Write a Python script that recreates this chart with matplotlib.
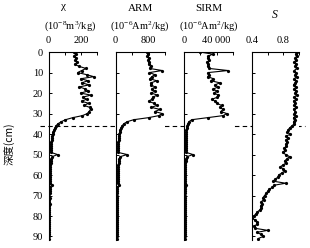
import matplotlib
matplotlib.use("Agg")
import matplotlib.pyplot as plt
import matplotlib.transforms as mtransforms

depth = [0, 1, 2, 3, 4, 5, 6, 7, 8, 9,
         10, 11, 12, 13, 14, 15, 16, 17, 18, 19,
         20, 21, 22, 23, 24, 25, 26, 27, 28, 29,
         30, 31, 32, 33, 34, 35, 36, 37, 38, 39,
         40, 41, 42, 43, 44, 45, 46, 47, 48, 49,
         50, 51, 52, 53, 54, 55, 56, 57, 58, 59,
         60, 61, 62, 63, 64, 65, 66, 67, 68, 69,
         70, 71, 72, 73, 74, 75, 76, 77, 78, 79,
         80, 81, 82, 83, 84, 85, 86, 87, 88, 89,
         90, 91]

chi = [160, 168, 158, 172, 165, 178, 162, 190, 232, 205,
       180, 235, 280, 200, 245, 205, 252, 190, 228, 245,
       198, 262, 212, 235, 205, 248, 220, 255, 260, 250,
       240, 210, 150, 105, 78, 58, 46, 40, 33, 29,
       26, 23, 21, 19, 17, 15, 14, 13, 13, 16,
       56, 24, 17, 14, 13, 12, 11, 10, 10, 9,
       9, 8, 8, 8, 8, 20, 7, 7, 8, 7,
       6, 7, 6, 6, 7, 6, 6, 5, 6, 5,
       5, 6, 5, 5, 6, 5, 5, 6, 5, 5,
       5, 5]

arm = [760, 780, 770, 800, 790, 820, 800, 850, 830, 1130,
       820, 950, 880, 830, 1000, 860, 850, 960, 880, 950,
       870, 1010, 900, 880, 800, 930, 1000, 870, 1080, 950,
       1130, 1050, 800, 440, 280, 200, 160, 130, 110, 100,
       92, 85, 80, 75, 70, 65, 62, 60, 58, 70,
       280, 120, 90, 80, 75, 70, 65, 62, 60, 58,
       55, 55, 52, 50, 50, 90, 48, 47, 46, 45,
       44, 43, 42, 42, 41, 40, 40, 39, 39, 38,
       38, 37, 37, 36, 36, 35, 35, 35, 34, 34,
       34, 33]

sirm = [20000, 35000, 30000, 29000, 31000, 28000, 30000, 29000, 31000, 54000,
        29500, 31000, 29000, 36000, 33000, 44000, 38000, 42000, 36000, 40000,
        37000, 42000, 41000, 34500, 38000, 40000, 46000, 44000, 48000, 45000,
        52500, 48000, 29000, 9500, 6000, 4500, 3800, 3300, 3000, 2800,
        2600, 2400, 2300, 2200, 2100, 2000, 1900, 1900, 2000, 3000,
        11000, 4000, 2500, 2000, 1800, 1700, 1600, 1500, 1500, 1400,
        1400, 1300, 1300, 1300, 1200, 2200, 1200, 1200, 1100, 1100,
        1100, 1000, 1000, 1000, 1000, 950, 950, 900, 900, 900,
        850, 850, 850, 800, 800, 800, 800, 750, 750, 750,
        750, 700]

s_ratio = [0.97, 0.96, 0.97, 0.95, 0.96, 0.94, 0.96, 0.95, 0.97, 0.94,
           0.96, 0.95, 0.97, 0.94, 0.96, 0.95, 0.93, 0.96, 0.94, 0.96,
           0.95, 0.97, 0.94, 0.96, 0.93, 0.95, 0.94, 0.96, 0.93, 0.95,
           0.94, 0.96, 0.93, 0.95, 0.93, 0.94, 0.91, 0.88, 0.86, 0.85,
           0.89, 0.84, 0.86, 0.83, 0.85, 0.83, 0.84, 0.81, 0.82, 0.79,
           0.83, 0.88, 0.85, 0.82, 0.84, 0.80, 0.76, 0.80, 0.82, 0.78,
           0.74, 0.73, 0.70, 0.67, 0.83, 0.68, 0.66, 0.62, 0.60, 0.58,
           0.56, 0.54, 0.55, 0.52, 0.53, 0.51, 0.52, 0.50, 0.47, 0.45,
           0.42, 0.40, 0.44, 0.46, 0.47, 0.42, 0.44, 0.60, 0.46, 0.52,
           0.54, 0.48]

depth_ticks = [0, 10, 20, 30, 40, 50, 60, 70, 80, 90]
boundary_depth = 36

titles = ["χ", "ARM", "SIRM", "S"]
units = ["(10$^{-8}$m$^{3}$/kg)", "(10$^{-6}$Am$^{2}$/kg)", "(10$^{-6}$Am$^{2}$/kg)", ""]
xlims = [(0, 300), (0, 1200), (0, 60000), (0.4, 1.0)]
xticks = [[0, 100, 200, 300], [0, 400, 800, 1200], [0, 20000, 40000, 60000], [0.4, 0.6, 0.8, 1.0]]
xticklabels = [["0", "", "200", ""], ["0", "", "800", ""], ["0", "", "40 000", ""], ["0.4", "", "0.8", ""]]
series = [chi, arm, sirm, s_ratio]

plt.rcParams['font.family'] = ['Liberation Serif', 'Noto Sans CJK SC']
plt.rcParams['mathtext.fontset'] = 'custom'
plt.rcParams['mathtext.rm'] = 'Liberation Serif'
plt.rcParams['mathtext.it'] = 'Liberation Serif:italic'

fig = plt.figure(figsize=(3.1, 2.48), dpi=100)

lefts = [0.1565, 0.3726, 0.5935, 0.8129]
widths = [0.1565, 0.160, 0.158, 0.1516]
bottom = 0.034
height = 0.756
title_x = [0.225, 0.452, 0.672, 0.887]

axes = []
for i in range(4):
    ax = fig.add_axes([lefts[i], bottom, widths[i], height])
    ax.plot(series[i], depth, color='black', lw=0.8, marker='o', ms=1.3)
    ax.set_xlim(*xlims[i])
    ax.set_ylim(91.5, 0)
    ax.spines['right'].set_visible(False)
    ax.spines['bottom'].set_visible(False)
    for sp in ('left', 'top'):
        ax.spines[sp].set_linewidth(0.8)
    ax.xaxis.tick_top()
    ax.set_xticks(xticks[i])
    ax.set_xticklabels(xticklabels[i])
    ax.set_yticks(depth_ticks)
    ax.tick_params(direction='in', length=2.5, width=0.7, labelsize=7.5)
    ax.tick_params(axis='x', pad=5)
    ax.tick_params(axis='y', pad=4)
    if i > 0:
        ax.set_yticklabels([])
    axes.append(ax)

fig.text(0.205, 0.99, titles[0], ha='center', va='top', fontsize=8)
fig.text(title_x[1], 0.985, titles[1], ha='center', va='top', fontsize=8)
fig.text(title_x[2], 0.985, titles[2], ha='center', va='top', fontsize=8)
fig.text(title_x[3], 0.965, titles[3], ha='center', va='top', fontsize=8.5, style='italic')
for i in range(3):
    fig.text(title_x[i], 0.893, units[i], ha='center', va='center', fontsize=7.5)

fig.text(0.03, 0.42, "深度(cm)", rotation=90, ha='center', va='center', fontsize=7.5,
         family=['Noto Sans CJK SC', 'Liberation Serif'])

trans = mtransforms.blended_transform_factory(fig.transFigure, axes[0].transData)
axes[0].plot([0.13, 0.985], [boundary_depth, boundary_depth], transform=trans,
             color='black', lw=0.8, ls=(0, (4, 3)), clip_on=False)

fig.savefig("out.png", dpi=100)
